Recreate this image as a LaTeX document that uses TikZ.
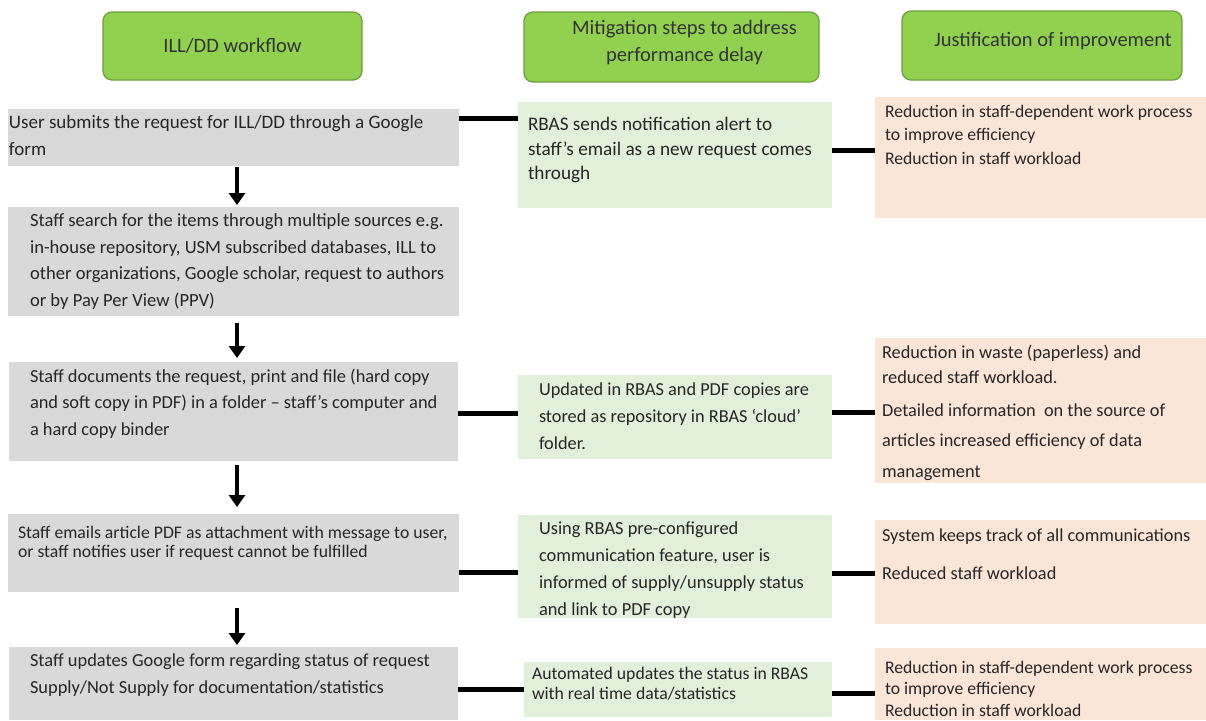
\documentclass[tikz,border=0pt]{standalone}
\usepackage{fontspec}
\setmainfont{Carlito}
\usetikzlibrary{arrows.meta}
\definecolor{hdrfill}{HTML}{92D050}
\definecolor{hdrline}{HTML}{6F9E3E}
\definecolor{hdrtext}{HTML}{333333}
\definecolor{grayfill}{HTML}{D9D9D9}
\definecolor{mintfill}{HTML}{E2EFDA}
\definecolor{peachfill}{HTML}{FBE5D6}
\definecolor{txt}{HTML}{262626}
% width, height, first-baseline offset, left padding, text
\newcommand{\cell}[5]{\parbox[t][#2][t]{#1}{\vspace*{\dimexpr#3-0.7\baselineskip\relax}\raggedright\leftskip=#4\relax\strut#5\par}}
% centred variant: width, height, first-baseline offset, extra left shift, text
\newcommand{\hcell}[5]{\parbox[t][#2][t]{#1}{\vspace*{\dimexpr#3-0.7\baselineskip\relax}\centering\leftskip=#4 plus 1fil\relax\strut#5\par}}
\tikzset{
  cellbox/.style={anchor=north west, inner sep=0pt, outer sep=0pt, text=txt},
  gbox/.style={cellbox, fill=grayfill},
  mbox/.style={cellbox, fill=mintfill},
  pbox/.style={cellbox, fill=peachfill},
  hdr/.style={cellbox, draw=hdrline, fill=hdrfill, line width=1.3pt, rounded corners=9pt, text=hdrtext, font=\fontsize{20.5}{27}\selectfont},
  conn/.style={line width=5pt},
  arr/.style={line width=4.5pt, -{Triangle[width=16pt,length=12pt]}},
}
\begin{document}
\begin{tikzpicture}[x=1pt,y=-1pt]
\fill[white] (0,0) rectangle (1206,720);
\useasboundingbox (0,0) rectangle (1206,720);

% headers
\node[hdr] (h1) at (103,12) {\hcell{259pt}{68pt}{40pt}{0pt}{ILL/DD workflow}};
\node[hdr] (h2) at (524,12) {\hcell{295pt}{70pt}{22pt}{26pt}{Mitigation steps to address\\performance delay}};
\node[hdr] (h3) at (902,11) {\hcell{280pt}{69pt}{35pt}{22pt}{Justification of improvement}};

% left column
\node[gbox, font=\fontsize{19}{26.5}\selectfont] (g1) at (8,109) {\cell{451pt}{57pt}{19.5pt}{1pt}{User submits the request for ILL/DD through a Google\\form}};
\node[gbox, font=\fontsize{18.6}{26.7}\selectfont] (g2) at (8,207) {\cell{451pt}{109pt}{19.5pt}{22pt}{Staff search for the items through multiple sources e.g.\\in-house repository, USM subscribed databases, ILL to\\other organizations, Google scholar, request to authors\\or by Pay Per View (PPV)}};
\node[gbox, font=\fontsize{18.4}{26.5}\selectfont] (g3) at (9,362) {\cell{449pt}{99pt}{20pt}{21pt}{Staff documents the request, print and file\ (hard copy\\and soft copy in PDF) in a folder – staff’s computer and\\a hard copy binder}};
\node[gbox, font=\fontsize{17.7}{18.5}\selectfont] (g4) at (8,514) {\cell{451pt}{78pt}{24.5pt}{10pt}{Staff emails article PDF as attachment with message to user,\\or staff notifies user if request\ cannot be fulfilled}};
\node[gbox, font=\fontsize{18.4}{27}\selectfont] (g5) at (9,647) {\cell{449pt}{73pt}{19.5pt}{21pt}{Staff updates Google form regarding status of request\\Supply/Not Supply for documentation/statistics}};

% middle column
\node[mbox, font=\fontsize{19.2}{24.5}\selectfont] (m1) at (518,102) {\cell{314pt}{106pt}{28.5pt}{10pt}{RBAS sends notification alert to\\staff’s email as a new request comes\\through}};
\node[mbox, font=\fontsize{18.3}{27}\selectfont] (m2) at (518,375) {\cell{314pt}{84pt}{20pt}{21pt}{Updated in RBAS and PDF copies are\\stored as repository in RBAS ‘cloud’\\folder.}};
\node[mbox, font=\fontsize{18.4}{27}\selectfont] (m3) at (518,515) {\cell{314pt}{103pt}{19.5pt}{21pt}{Using RBAS pre-configured\\communication feature, user is\\informed of supply/unsupply status\\and link to PDF copy}};
\node[mbox, font=\fontsize{17.7}{20}\selectfont] (m4) at (524,662) {\cell{308pt}{55pt}{17pt}{8pt}{Automated updates the status in RBAS\\with real time data/statistics}};

% right column
\node[pbox, font=\fontsize{17.7}{23.5}\selectfont] (r1) at (875,97) {\cell{331pt}{121pt}{20pt}{10pt}{Reduction in staff-dependent work process\\to improve efficiency\\Reduction in staff workload}};
\node[pbox, font=\fontsize{18.3}{25}\selectfont] (r2) at (875,338) {\cell{331pt}{145pt}{20pt}{7pt}{Reduction in waste (paperless) and\\reduced staff workload.\\[8pt]Detailed information\ \ on the source of\\[5pt]articles increased efficiency of data\\[6pt]management}};
\node[pbox, font=\fontsize{18.3}{24}\selectfont] (r3) at (875,520) {\cell{331pt}{104pt}{21pt}{7pt}{System keeps track of all communications\\[14pt]Reduced staff workload}};
\node[pbox, font=\fontsize{17.7}{21.5}\selectfont] (r4) at (875,648) {\cell{331pt}{72pt}{25pt}{10pt}{Reduction in staff-dependent work process\\to improve efficiency\\Reduction in staff workload}};

% flow arrows
\draw[arr] ([xshift=3.5pt,yshift=-1pt]g1.south) -- ([xshift=3.5pt,yshift=2pt]g2.north);
\draw[arr] ([xshift=3.5pt,yshift=-7pt]g2.south) -- ([xshift=3.5pt,yshift=4pt]g3.north);
\draw[arr] ([xshift=3.5pt,yshift=-4pt]g3.south) -- ([xshift=3.5pt,yshift=7pt]g4.north);
\draw[arr] ([xshift=3.5pt,yshift=-16pt]g4.south) -- ([xshift=3.5pt,yshift=2pt]g5.north);

% connectors
\draw[conn] ([yshift=-9pt]g1.north east) -- ([yshift=-9pt]g1.north east -| m1.west);
\draw[conn] ([yshift=-48pt]m1.north east) -- ([yshift=-48pt]m1.north east -| r1.west);
\draw[conn] ([yshift=-51pt]g3.north east) -- ([yshift=-51pt]g3.north east -| m2.west);
\draw[conn] ([yshift=-37pt]m2.north east) -- ([yshift=-37pt]m2.north east -| r2.west);
\draw[conn] ([yshift=-58pt]g4.north east) -- ([yshift=-58pt]g4.north east -| m3.west);
\draw[conn] ([yshift=-58pt]m3.north east) -- ([yshift=-58pt]m3.north east -| r3.west);
\draw[conn] ([yshift=-42pt]g5.north east) -- ([yshift=-42pt]g5.north east -| m4.west);
\draw[conn] ([yshift=-31pt]m4.north east) -- ([yshift=-31pt]m4.north east -| r4.west);
\end{tikzpicture}
\end{document}
